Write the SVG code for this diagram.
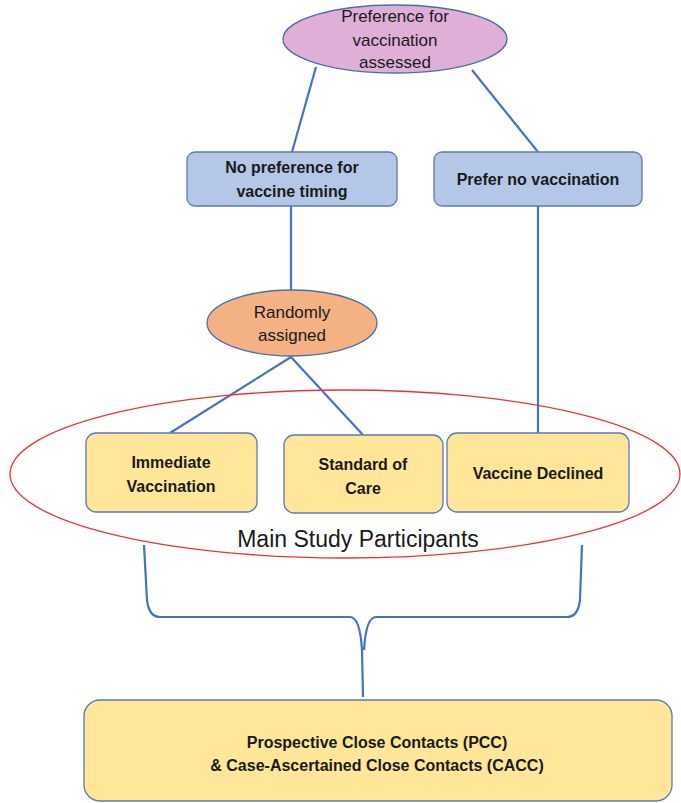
<svg xmlns="http://www.w3.org/2000/svg" width="681" height="803" viewBox="0 0 681 803">
<style>
.ln{fill:none;stroke:#4472c4;stroke-width:2.2}
.bl{fill:#b4c7e7;stroke:#5a7ab8;stroke-width:1.3}
.yl{fill:#ffe699;stroke:#5a7ab8;stroke-width:1.3}
.b{font-family:"Liberation Sans",Arial,sans-serif;font-weight:bold;font-size:16px;fill:#1a1a1a;text-anchor:middle}
.n{font-family:"Liberation Sans",Arial,sans-serif;font-size:17px;fill:#1a1a1a;text-anchor:middle}
</style>
<rect width="681" height="803" fill="#ffffff"/>
<g id="connectors">
<line class="ln" x1="316" y1="67" x2="292" y2="152"/>
<line class="ln" x1="472" y1="70" x2="538" y2="152"/>
<line class="ln" x1="291" y1="206" x2="291" y2="291"/>
<line class="ln" x1="538" y1="206" x2="538" y2="433"/>
<line class="ln" x1="291" y1="357" x2="170" y2="433"/>
<line class="ln" x1="291" y1="357" x2="363" y2="435"/>
<path class="ln" d="M144,545 L147,600 Q149,617 160,617 L350,617 Q360,617 362,650 L363,697"/>
<path class="ln" d="M582,545 L580,600 Q578,617 567,617 L376,617 Q366,617 364,650"/>
</g>
<g id="study-ellipse">
<ellipse cx="345" cy="474" rx="335" ry="84" fill="none" stroke="#ee3333" stroke-width="1.3"/>
<text x="358" y="547" font-family="Liberation Sans,Arial,sans-serif" font-size="23" fill="#1a1a1a" text-anchor="middle">Main Study Participants</text>
</g>
<g id="pref-assessed">
<ellipse cx="395" cy="39" rx="112" ry="34" fill="#e0afd8" stroke="#4a6ea8" stroke-width="1.3"/>
<text class="n" x="395" y="22">Preference for</text>
<text class="n" x="395" y="46">vaccination</text>
<text class="n" x="395" y="68">assessed</text>
</g>
<g id="no-pref">
<rect class="bl" x="187" y="152" width="210" height="54" rx="8"/>
<text class="b" x="292" y="173">No preference for</text>
<text class="b" x="292" y="197">vaccine timing</text>
</g>
<g id="prefer-no">
<rect class="bl" x="434" y="152" width="208" height="54" rx="8"/>
<text class="b" x="538" y="185">Prefer no vaccination</text>
</g>
<g id="randomly">
<ellipse cx="292" cy="323" rx="85" ry="33" fill="#f4b183" stroke="#4a6ea8" stroke-width="1.3"/>
<text class="n" x="292" y="318">Randomly</text>
<text class="n" x="292" y="341">assigned</text>
</g>
<g id="immediate">
<rect class="yl" x="86" y="433" width="171" height="79" rx="10"/>
<text class="b" x="171" y="468">Immediate</text>
<text class="b" x="171" y="492">Vaccination</text>
</g>
<g id="standard">
<rect class="yl" x="284" y="435" width="159" height="78" rx="10"/>
<text class="b" x="363" y="470">Standard of</text>
<text class="b" x="363" y="494">Care</text>
</g>
<g id="declined">
<rect class="yl" x="447" y="433" width="182" height="79" rx="10"/>
<text class="b" x="538" y="479">Vaccine Declined</text>
</g>
<g id="contacts">
<rect class="yl" x="84" y="700" width="588" height="101" rx="16"/>
<text class="b" x="377" y="748">Prospective Close Contacts (PCC)</text>
<text class="b" x="377" y="771">&amp; Case-Ascertained Close Contacts (CACC)</text>
</g>
</svg>
